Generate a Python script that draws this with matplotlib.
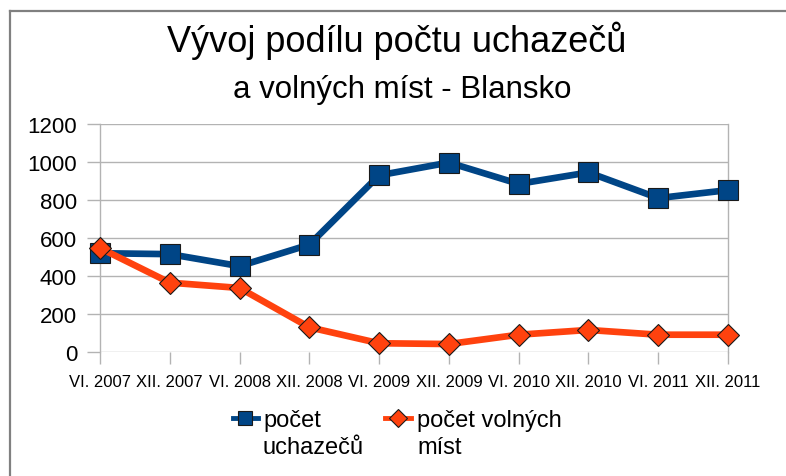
import matplotlib
matplotlib.use("Agg")
import matplotlib.pyplot as plt
from matplotlib.lines import Line2D

plt.rcParams['font.family'] = ['Liberation Sans', 'DejaVu Sans']

categories = ["VI. 2007", "XII. 2007", "VI. 2008", "XII. 2008", "VI. 2009",
              "XII. 2009", "VI. 2010", "XII. 2010", "VI. 2011", "XII. 2011"]
uchazecu = [520, 515, 452, 565, 930, 997, 885, 945, 810, 852]
volnych = [547, 365, 337, 130, 46, 42, 91, 116, 91, 91]
yticks = [0, 200, 400, 600, 800, 1000, 1200]

title1 = "Vývoj podílu počtu uchazečů"
title2 = "a volných míst - Blansko"
label1 = "počet\nuchazečů"
label2 = "počet volných\nmíst"

BLUE = "#004586"
ORANGE = "#ff420e"
GRID = "#b3b3b3"
EDGE = "#1a1a1a"

W, H = 786, 477
fig = plt.figure(figsize=(W / 100, H / 100), dpi=100)


def fx(px):
    return px / W


def fy(py):
    return 1 - py / H


# outer frame
fig.add_artist(Line2D([fx(10), 1.0], [fy(12), fy(12)], color="#808080", lw=1.6, transform=fig.transFigure))
fig.add_artist(Line2D([fx(10), fx(10)], [0, fy(12)], color="#808080", lw=1.6, transform=fig.transFigure))

ax = fig.add_axes([fx(100), fy(353), (728 - 100) / W, (353 - 125) / H])
x = list(range(len(categories)))

ax.plot(x, uchazecu, color=BLUE, lw=4.8, marker="s", markersize=15,
        markerfacecolor=BLUE, markeredgecolor=EDGE, markeredgewidth=0.8,
        clip_on=False, zorder=3)
ax.plot(x, volnych, color=ORANGE, lw=4.8, marker="D", markersize=11,
        markerfacecolor=ORANGE, markeredgecolor=EDGE, markeredgewidth=0.8,
        clip_on=False, zorder=4)

ax.set_xlim(0, len(categories) - 1)
ax.set_ylim(0, 1200)
ax.set_yticks(yticks)
ax.set_yticklabels([str(v) for v in yticks], fontsize=16)
ax.set_xticks(x)
ax.set_xticklabels(categories, fontsize=12)
ax.yaxis.grid(True, color=GRID, lw=1)
ax.set_axisbelow(True)
for s in ["top", "bottom"]:
    ax.spines[s].set_visible(False)
for s in ["left", "right"]:
    ax.spines[s].set_color(GRID)
    ax.spines[s].set_linewidth(1)
ax.tick_params(axis="y", length=9.5, color=GRID, width=1, pad=7)
ax.tick_params(axis="x", length=8.6, color=GRID, width=1, pad=7, direction="out")

fig.text(fx(397), fy(52), title1, ha="center", va="baseline", fontsize=26)
fig.text(fx(402), fy(98), title2, ha="center", va="baseline", fontsize=22.5)

# legend (manual, handle aligned with first text line as in the reference)
leg_items = [(label1, BLUE, "s", 10, 233, 258, 263),
             (label2, ORANGE, "D", 9, 385, 411, 417)]
for lab, col, mk, ms, x0, x1, tx in leg_items:
    fig.add_artist(Line2D([fx(x0), fx(x1)], [fy(419), fy(419)], color=col, lw=3.5,
                          transform=fig.transFigure))
    fig.add_artist(Line2D([fx((x0 + x1) / 2)], [fy(419)], color=col, lw=0, marker=mk,
                          markersize=ms, markerfacecolor=col, markeredgecolor=EDGE,
                          markeredgewidth=0.8, transform=fig.transFigure))
    fig.text(fx(tx), fy(410), lab, ha="left", va="top", fontsize=17, linespacing=1.3)

fig.savefig("out.png", dpi=100)
